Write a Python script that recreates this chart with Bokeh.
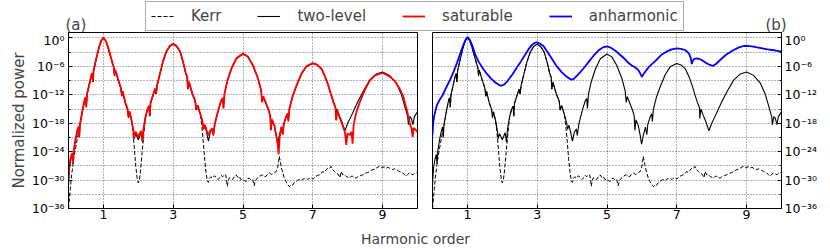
import numpy as np
from bokeh.plotting import figure
from bokeh.models import (Range1d, FixedTicker, CustomJSTickFormatter, Legend, LegendItem,
                          Label, ColumnDataSource)
from bokeh.layouts import column, row
from bokeh.embed import file_html
from bokeh.resources import INLINE

FONT = "DejaVu Sans"

# ---------------- data (x = harmonic order, values given as log10 of normalized power) -------------
x_ticks = [1, 3, 5, 7, 9]
y_major_exp = [0, -6, -12, -18, -24, -30, -36]
y_minor_exp = [-3, -9, -15, -21, -27, -33]

two_level_x = [0.00, 0.03, 0.07, 0.11, 0.13, 0.15, 0.20, 0.26, 0.29, 0.31, 0.33, 0.40, 0.46, 0.49, 0.51,
               0.53, 0.60, 0.65, 0.68, 0.70, 0.72, 0.80, 0.88, 0.94, 1.00, 1.06, 1.12, 1.20, 1.27, 1.30,
               1.32, 1.34, 1.42, 1.50, 1.53, 1.55, 1.63, 1.69, 1.72, 1.75, 1.81, 1.86, 1.88, 1.92, 2.00,
               2.08, 2.12, 2.15, 2.21, 2.27, 2.31, 2.33, 2.35, 2.42, 2.48, 2.51, 2.54, 2.62, 2.70, 2.80,
               2.90, 3.00, 3.10, 3.20, 3.28, 3.36, 3.40, 3.42, 3.45, 3.55, 3.63, 3.66, 3.70, 3.78, 3.84,
               3.87, 3.91, 3.96, 4.01, 4.06, 4.12, 4.15, 4.19, 4.26, 4.32, 4.38, 4.42, 4.44, 4.47, 4.55,
               4.67, 4.81, 5.00, 5.14, 5.28, 5.43, 5.52, 5.55, 5.58, 5.66, 5.73, 5.78, 5.80, 5.83, 5.90,
               5.95, 5.99, 6.04, 6.10, 6.14, 6.17, 6.24, 6.28, 6.30, 6.33, 6.42, 6.53, 6.67, 6.81, 7.00,
               7.12, 7.25, 7.35, 7.44, 7.52, 7.59, 7.65, 7.66, 7.69, 7.76, 7.84, 7.92, 8.00, 8.10, 8.20,
               8.30, 8.45, 8.63, 8.82, 9.00, 9.20, 9.40, 9.54, 9.65, 9.72, 9.74, 9.78, 9.82, 9.87, 9.91,
               10.00]
two_level_log = [-31.0, -27.5, -25.6, -24.6, -26.6, -24.0, -21.6, -19.4, -18.8, -21.0, -18.3, -15.4, -13.2,
                 -12.6, -14.6, -12.0, -9.7, -8.1, -7.5, -9.3, -6.9, -4.3, -1.9, -0.6, 0.0, -0.5, -1.7, -3.8,
                 -5.6, -6.3, -8.0, -6.8, -8.8, -10.6, -12.3, -11.3, -13.8, -15.0, -16.8, -15.6, -17.6,
                 -19.6, -21.3, -20.2, -21.5, -20.0, -22.0, -19.2, -16.6, -15.0, -14.4, -16.5, -13.8, -12.2,
                 -10.8, -11.8, -10.0, -7.6, -5.2, -3.0, -1.8, -1.3, -1.8, -3.0, -5.0, -7.5, -8.3, -10.8,
                 -9.3, -11.9, -13.3, -15.2, -14.3, -16.2, -17.8, -19.3, -18.4, -20.0, -21.8, -20.0, -19.2,
                 -20.6, -18.3, -16.2, -14.6, -13.2, -12.8, -14.9, -11.8, -9.2, -6.5, -4.4, -3.4, -4.0,
                 -5.8, -8.6, -11.2, -13.6, -12.4, -13.9, -15.2, -16.5, -19.5, -17.3, -18.6, -20.5, -22.4,
                 -20.6, -18.8, -20.4, -18.2, -16.6, -16.0, -17.6, -15.0, -12.4, -10.2, -7.7, -6.1, -5.4,
                 -5.7, -6.6, -8.2, -10.0, -12.0, -13.6, -14.8, -17.0, -15.0, -16.4, -17.8, -19.6, -18.0,
                 -16.5, -14.9, -13.3, -11.2, -8.9, -7.6, -7.2, -7.9, -9.6, -12.0, -14.8, -16.6, -18.3,
                 -16.6, -16.9, -18.3, -16.6, -15.6]

saturable_x = [0.00, 0.03, 0.07, 0.11, 0.13, 0.15, 0.20, 0.26, 0.29, 0.31, 0.33, 0.40, 0.46, 0.49, 0.51,
               0.53, 0.60, 0.65, 0.68, 0.70, 0.72, 0.80, 0.88, 0.94, 1.00, 1.06, 1.12, 1.20, 1.27, 1.30,
               1.32, 1.34, 1.42, 1.50, 1.53, 1.55, 1.63, 1.69, 1.72, 1.75, 1.81, 1.86, 1.88, 1.92, 2.00,
               2.08, 2.12, 2.15, 2.21, 2.27, 2.31, 2.33, 2.35, 2.42, 2.48, 2.51, 2.54, 2.62, 2.70, 2.80,
               2.90, 3.00, 3.10, 3.20, 3.28, 3.36, 3.40, 3.42, 3.45, 3.55, 3.63, 3.66, 3.70, 3.78, 3.84,
               3.87, 3.91, 3.96, 4.01, 4.06, 4.12, 4.15, 4.19, 4.26, 4.32, 4.38, 4.42, 4.44, 4.47, 4.55,
               4.67, 4.81, 5.00, 5.14, 5.28, 5.43, 5.52, 5.55, 5.58, 5.66, 5.73, 5.78, 5.80, 5.83, 5.90,
               5.95, 5.99, 6.02, 6.05, 6.10, 6.14, 6.17, 6.24, 6.28, 6.30, 6.33, 6.42, 6.53, 6.67, 6.81,
               7.00, 7.12, 7.25, 7.35, 7.44, 7.52, 7.59, 7.65, 7.67, 7.70, 7.78, 7.86, 7.92, 7.96, 7.99,
               8.06, 8.11, 8.14, 8.17, 8.25, 8.35, 8.49, 8.63, 8.78, 9.00, 9.20, 9.35, 9.48, 9.59, 9.67,
               9.73, 9.79, 9.83, 9.86, 9.89, 9.95, 10.00]
saturable_log = [-29.0, -26.5, -25.0, -24.3, -26.3, -23.8, -21.4, -19.3, -18.7, -20.8, -18.2, -15.3, -13.1,
                 -12.5, -14.5, -11.9, -9.6, -8.0, -7.4, -9.2, -6.8, -4.2, -1.8, -0.5, 0.0, -0.5, -1.6, -3.7,
                 -5.5, -6.2, -7.9, -6.7, -8.7, -10.5, -12.2, -11.2, -13.7, -14.9, -16.7, -15.5, -17.5,
                 -19.5, -21.2, -19.8, -20.8, -19.6, -21.8, -19.1, -16.5, -14.9, -14.3, -16.4, -13.7, -12.1,
                 -10.7, -11.7, -9.9, -7.5, -5.1, -2.9, -1.7, -1.2, -1.7, -2.9, -4.9, -7.4, -8.2, -10.7,
                 -9.2, -11.8, -13.2, -15.1, -14.2, -16.1, -17.7, -19.2, -18.3, -19.6, -20.6, -19.6, -19.1,
                 -20.5, -18.2, -16.1, -14.5, -13.1, -12.7, -14.8, -11.7, -9.1, -6.4, -4.3, -3.3, -3.9,
                 -5.7, -8.5, -11.1, -13.5, -12.3, -13.8, -15.1, -16.4, -19.4, -17.2, -18.5, -20.5, -22.0,
                 -24.6, -21.0, -18.7, -20.3, -18.1, -16.5, -15.9, -17.5, -14.9, -12.3, -10.1, -7.6, -6.0,
                 -5.3, -5.6, -6.5, -8.1, -9.9, -11.8, -13.4, -14.7, -17.4, -15.4, -17.0, -18.6, -19.9,
                 -22.6, -20.2, -20.5, -19.8, -22.3, -18.4, -15.6, -13.5, -11.0, -9.0, -7.9, -7.4, -8.1,
                 -9.1, -10.6, -12.3, -14.5, -16.3, -18.3, -19.1, -20.9, -19.0, -19.4, -19.9]

kerr_x = [0.00, 0.02, 0.05, 0.08, 0.12, 0.16, 0.21, 0.26, 0.30, 0.33, 0.40, 0.46, 0.49, 0.51, 0.53, 0.60,
          0.65, 0.68, 0.70, 0.72, 0.80, 0.88, 0.94, 1.00, 1.06, 1.12, 1.20, 1.27, 1.30, 1.32, 1.34, 1.42,
          1.50, 1.53, 1.55, 1.63, 1.69, 1.72, 1.75, 1.81, 1.85, 1.89, 1.93, 1.97, 2.00, 2.03, 2.07, 2.11,
          2.16, 2.21, 2.27, 2.31, 2.33, 2.35, 2.42, 2.48, 2.51, 2.54, 2.62, 2.70, 2.80, 2.90, 3.00, 3.10,
          3.20, 3.28, 3.36, 3.40, 3.42, 3.45, 3.55, 3.63, 3.66, 3.70, 3.78, 3.82, 3.86, 3.90, 3.94, 3.98,
          4.01, 4.04, 4.08, 4.13, 4.18, 4.23, 4.28, 4.32, 4.37, 4.42, 4.47, 4.51, 4.55, 4.58, 4.61, 4.66,
          4.70, 4.75, 4.80, 4.85, 4.89, 4.94, 4.99, 5.04, 5.09, 5.14, 5.18, 5.23, 5.28, 5.32, 5.35, 5.40,
          5.47, 5.52, 5.56, 5.61, 5.66, 5.71, 5.76, 5.81, 5.85, 5.90, 5.95, 5.99, 6.02, 6.04, 6.07, 6.10,
          6.14, 6.18, 6.23, 6.28, 6.33, 6.38, 6.42, 6.47, 6.52, 6.57, 6.62, 6.67, 6.71, 6.76, 6.81, 6.86,
          6.90, 6.95, 7.00, 7.05, 7.09, 7.14, 7.19, 7.24, 7.28, 7.33, 7.38, 7.43, 7.48, 7.52, 7.57, 7.62,
          7.67, 7.72, 7.76, 7.78, 7.81, 7.86, 7.90, 7.95, 8.00, 8.05, 8.10, 8.15, 8.20, 8.24, 8.29, 8.34,
          8.38, 8.43, 8.48, 8.53, 8.58, 8.62, 8.67, 8.72, 8.77, 8.81, 8.86, 8.91, 8.96, 9.01, 9.05, 9.10,
          9.15, 9.20, 9.25, 9.29, 9.34, 9.39, 9.44, 9.48, 9.53, 9.58, 9.63, 9.67, 9.72, 9.77, 9.82, 9.87,
          9.91, 9.96, 10.00]
kerr_log = [-36.0, -34.5, -32.0, -29.6, -27.2, -25.0, -23.0, -21.0, -19.4, -18.3, -15.4, -13.2, -12.6,
            -14.6, -12.0, -9.7, -8.1, -7.5, -9.3, -6.9, -4.3, -1.9, -0.6, 0.0, -0.5, -1.7, -3.8, -5.6, -6.3,
            -8.0, -6.8, -8.8, -10.6, -12.3, -11.3, -13.8, -15.0, -16.8, -15.6, -17.6, -20.2, -23.6, -27.2,
            -29.8, -30.6, -30.1, -27.6, -24.2, -20.2, -16.6, -15.0, -14.4, -16.5, -13.8, -12.2, -10.8,
            -11.8, -10.0, -7.6, -5.2, -3.0, -1.8, -1.3, -1.8, -3.0, -5.0, -7.5, -8.3, -10.8, -9.3, -11.9,
            -13.3, -15.2, -14.3, -16.2, -18.6, -21.8, -25.4, -28.4, -30.3, -30.5, -29.6, -29.3, -29.6,
            -29.1, -29.4, -29.9, -29.6, -29.0, -29.3, -28.8, -29.0, -31.3, -30.0, -29.5, -29.8, -29.9,
            -29.3, -28.9, -29.4, -29.2, -29.9, -29.8, -30.1, -30.3, -29.7, -29.6, -30.0, -29.9, -31.2,
            -30.2, -29.7, -29.2, -29.0, -28.9, -29.3, -29.2, -28.7, -28.5, -28.8, -28.7, -28.4, -28.2,
            -27.4, -26.0, -25.0, -26.2, -27.4, -28.5, -29.5, -30.3, -30.9, -31.4, -31.0, -31.1, -30.5,
            -30.3, -30.0, -29.9, -30.1, -29.8, -29.7, -29.6, -29.9, -29.6, -29.5, -29.8, -29.4, -29.2,
            -29.0, -28.9, -28.6, -28.2, -28.4, -27.9, -27.5, -27.6, -27.1, -27.8, -28.2, -28.5, -28.7,
            -29.2, -29.5, -28.2, -28.9, -28.8, -29.2, -29.4, -29.6, -29.2, -29.2, -29.5, -29.6, -29.3,
            -29.2, -29.0, -28.9, -28.7, -28.5, -28.4, -28.2, -28.0, -27.8, -27.7, -27.5, -27.3, -27.1,
            -27.4, -27.3, -27.2, -27.5, -27.3, -27.5, -27.6, -27.8, -27.6, -27.8, -28.0, -28.2, -28.3,
            -28.5, -28.9, -29.2, -28.8, -28.5, -28.7, -28.9, -28.6, -28.5, -28.3]

anharmonic_x = [0.00, 0.02, 0.05, 0.12, 0.20, 0.28, 0.41, 0.50, 0.60, 0.70, 0.80, 0.90, 0.96, 1.01, 1.06,
                1.13, 1.22, 1.32, 1.44, 1.56, 1.68, 1.80, 1.90, 1.98, 2.06, 2.15, 2.30, 2.41, 2.53, 2.65,
                2.76, 2.86, 2.94, 3.00, 3.08, 3.18, 3.30, 3.44, 3.55, 3.70, 3.85, 3.95, 4.00, 4.07, 4.19,
                4.32, 4.48, 4.62, 4.76, 4.88, 5.00, 5.12, 5.24, 5.38, 5.52, 5.62, 5.71, 5.80, 5.90, 5.96,
                6.00, 6.04, 6.10, 6.20, 6.38, 6.55, 6.70, 6.85, 7.00, 7.12, 7.25, 7.35, 7.40, 7.43, 7.46,
                7.50, 7.59, 7.70, 7.82, 7.95, 8.03, 8.12, 8.25, 8.40, 8.59, 8.78, 8.92, 9.02, 9.15, 9.30,
                9.45, 9.60, 9.80, 10.00]
anharmonic_log = [-20.5, -18.0, -16.4, -14.3, -13.1, -12.2, -10.2, -8.9, -7.2, -5.3, -3.2, -1.2, -0.2,
                  0.15, -0.3, -1.4, -3.4, -5.0, -6.4, -7.6, -8.6, -9.4, -9.9, -10.1, -9.8, -9.1, -7.6,
                  -6.3, -5.0, -3.6, -2.3, -1.4, -1.0, -0.95, -1.2, -1.7, -3.0, -4.6, -5.9, -7.2, -8.2,
                  -8.7, -8.8, -8.5, -7.6, -6.5, -5.0, -3.7, -2.6, -2.0, -1.8, -2.1, -2.7, -3.6, -4.5,
                  -5.3, -5.8, -6.2, -6.8, -7.6, -8.2, -7.7, -7.1, -6.1, -4.9, -3.6, -2.9, -2.4, -2.2,
                  -2.3, -2.6, -3.3, -4.2, -5.5, -4.8, -4.4, -4.3, -4.6, -5.2, -5.7, -5.9, -5.5, -4.6,
                  -3.6, -2.7, -2.0, -1.7, -1.65, -1.8, -2.0, -2.2, -2.4, -2.6, -2.9]

legend_labels = ["Kerr", "two-level", "saturable", "anharmonic"]


def source(xs, logs):
    return ColumnDataSource(dict(x=xs, y=[10.0 ** v for v in logs]))


SUP_CODE = r"""
const e = Math.round(Math.log10(tick));
const m = {"-": "\u207b", "0": "\u2070", "1": "\u00b9", "2": "\u00b2", "3": "\u00b3",
           "4": "\u2074", "5": "\u2075", "6": "\u2076", "7": "\u2077", "8": "\u2078", "9": "\u2079"};
let s = "";
for (const c of String(e)) { s += m[c]; }
return "10" + s;
"""

KERR_STYLE = dict(line_color="black", line_width=1, line_dash="4 2")
TWO_STYLE = dict(line_color="black", line_width=1.1)
SAT_STYLE = dict(line_color="#ff0000", line_width=1.8)
ANH_STYLE = dict(line_color="#0000ff", line_width=1.8)


def make_panel(side, width, left, right):
    p = figure(width=width, height=192, x_range=Range1d(0, 10),
               y_range=Range1d(1e-36, 10 ** 1.15), y_axis_type="log", y_axis_location=side,
               output_backend="svg", toolbar_location=None, title=None,
               min_border_left=left, min_border_right=right, min_border_top=0, min_border_bottom=16)
    p.background_fill_color = "white"
    p.border_fill_color = "white"
    p.outline_line_color = "black"
    p.outline_line_width = 1
    p.xaxis.ticker = FixedTicker(ticks=x_ticks)
    p.yaxis.ticker = FixedTicker(ticks=[10.0 ** e for e in y_major_exp],
                                 minor_ticks=[10.0 ** e for e in y_minor_exp])
    p.yaxis.formatter = CustomJSTickFormatter(code=SUP_CODE)
    for ax in (p.xaxis[0], p.yaxis[0]):
        ax.major_tick_in = 4
        ax.major_tick_out = 0
        ax.minor_tick_in = 2
        ax.minor_tick_out = 0
        ax.axis_line_color = "black"
        ax.major_tick_line_color = "black"
        ax.minor_tick_line_color = "black"
        ax.major_label_text_font = FONT
        ax.major_label_text_font_size = "12.5px"
        ax.major_label_text_color = "black"
    p.xaxis.minor_tick_line_color = None
    p.xaxis.major_label_standoff = 1
    p.yaxis.major_label_standoff = 4 if side == "left" else 3
    for g in (p.xgrid[0], p.ygrid[0]):
        g.grid_line_color = "black"
        g.grid_line_alpha = 0.6
        g.grid_line_dash = "1 2"
        g.grid_line_width = 1
    p.ygrid.minor_grid_line_color = "black"
    p.ygrid.minor_grid_line_alpha = 0.6
    p.ygrid.minor_grid_line_dash = "1 2"
    p.line("x", "y", source=source(kerr_x, kerr_log), **KERR_STYLE)
    p.line("x", "y", source=source(two_level_x, two_level_log), **TWO_STYLE)
    return p


pa = make_panel("left", 424, 68, 7)
pa.line("x", "y", source=source(saturable_x, saturable_log), **SAT_STYLE)
pa.yaxis.axis_label = "Normalized power"
pa.yaxis.axis_label_text_font = FONT
pa.yaxis.axis_label_text_font_size = "15px"
pa.yaxis.axis_label_text_font_style = "normal"
pa.yaxis.axis_label_standoff = 1

pb = make_panel("right", 406, 8, 49)
pb.line("x", "y", source=source(anharmonic_x, anharmonic_log), **ANH_STYLE)

# ---- top strip: panel letters and shared legend ----
top = figure(width=830, height=32, x_range=Range1d(0, 1), y_range=Range1d(0, 1),
             x_axis_location=None, y_axis_location=None, output_backend="svg",
             toolbar_location=None, title=None, min_border=0)
top.grid.visible = False
top.outline_line_color = None
top.background_fill_color = "white"
top.border_fill_color = "white"
nan = [float("nan")]
r1 = top.line(x=nan, y=nan, **KERR_STYLE)
r2 = top.line(x=nan, y=nan, **TWO_STYLE)
r3 = top.line(x=nan, y=nan, **SAT_STYLE)
r4 = top.line(x=nan, y=nan, **ANH_STYLE)
legend = Legend(items=[LegendItem(label=l, renderers=[r]) for l, r in zip(legend_labels, [r1, r2, r3, r4])],
                orientation="horizontal", location=(145, 1), padding=5, spacing=36,
                glyph_width=23, glyph_height=14, label_standoff=17, margin=0,
                label_text_font=FONT, label_text_font_size="15px",
                border_line_color="#555555", border_line_width=1,
                background_fill_color="white", background_fill_alpha=1)
top.add_layout(legend, "center")
for txt, xpos in (("(a)", 65), ("(b)", 765)):
    top.add_layout(Label(x=xpos, y=8, x_units="screen", y_units="screen", text=txt,
                         text_font=FONT, text_font_size="15px", text_baseline="alphabetic"))

# ---- bottom strip: shared x label ----
bottom = figure(width=830, height=20, x_range=Range1d(0, 1), y_range=Range1d(0, 1),
                x_axis_location=None, y_axis_location=None, output_backend="svg",
                toolbar_location=None, title=None, min_border=0)
bottom.grid.visible = False
bottom.outline_line_color = None
bottom.add_layout(Label(x=415, y=6, x_units="screen", y_units="screen", text="Harmonic order",
                        text_font=FONT, text_font_size="14px", text_align="center",
                        text_baseline="alphabetic"))

layout = column(top, row(pa, pb), bottom)
open("out.html", "w").write(file_html(layout, INLINE))
